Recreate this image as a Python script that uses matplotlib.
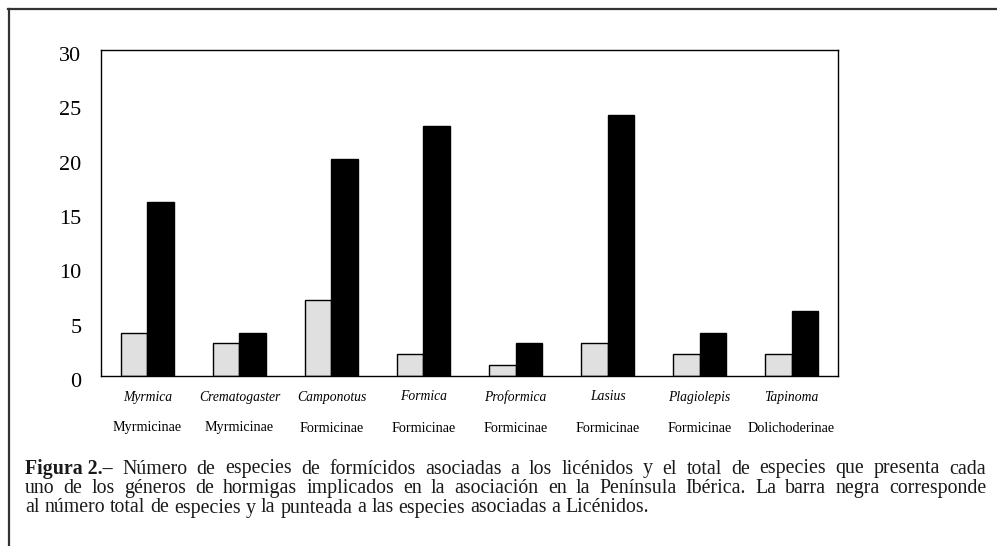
import matplotlib
matplotlib.use("Agg")
import matplotlib.pyplot as plt
from matplotlib.lines import Line2D
from matplotlib.transforms import ScaledTranslation
import numpy as np

genera = ["Myrmica", "Crematogaster", "Camponotus", "Formica",
          "Proformica", "Lasius", "Plagiolepis", "Tapinoma"]
subfamilies = ["Myrmicinae", "Myrmicinae", "Formicinae", "Formicinae",
               "Formicinae", "Formicinae", "Formicinae", "Dolichoderinae"]
associated = [4, 3, 7, 2, 1, 3, 2, 2]
total = [16, 4, 20, 23, 3, 24, 4, 6]
yticks = [0, 5, 10, 15, 20, 25, 30]

caption_bold = "Figura 2.–"
caption_lines = [
    "Número de especies de formícidos asociadas a los licénidos y el total de especies que presenta cada",
    "uno de los géneros de hormigas implicados en la asociación en la Península Ibérica. La barra negra corresponde",
    "al número total de especies y la punteada a las especies asociadas a Licénidos.",
]

FAM = "Liberation Serif"
plt.rcParams["font.family"] = [FAM, "DejaVu Serif"]

W, H = 997, 546
fig = plt.figure(figsize=(W / 100, H / 100), dpi=100)
fig.patch.set_facecolor("white")

ax = fig.add_axes([101 / W, 1 - 376 / H, (838 - 101) / W, (376 - 50) / H])
x = np.arange(len(genera))
bw = 0.29
ax.bar(x, associated, width=-bw, align="edge", color="#e0e0e0",
       edgecolor="black", linewidth=1.0)
ax.bar(x, total, width=bw, align="edge", color="black",
       edgecolor="black", linewidth=1.0)

ax.set_xlim(-0.505, 7.505)
ax.set_ylim(0, 30)
ax.set_yticks(yticks)
ax.set_yticklabels([str(v) for v in yticks], fontsize=16, family=FAM)
ax.tick_params(axis="y", length=0, pad=14)
off = ScaledTranslation(0, -4 / 100, fig.dpi_scale_trans)
for lab in ax.get_yticklabels():
    lab.set_transform(lab.get_transform() + off)
ax.set_xticks([])
for s in ax.spines.values():
    s.set_color("black")
    s.set_linewidth(1.0)

tr = ax.get_xaxis_transform()
for xi, g, sf in zip(x, genera, subfamilies):
    ax.text(xi, -21 / 326, g, transform=tr, ha="center", va="center",
            fontsize=9.8, style="italic", family=FAM)
    ax.text(xi, -52 / 326, sf, transform=tr, ha="center", va="center",
            fontsize=10.2, family=FAM)

# outer frame
fig.add_artist(Line2D([8 / W, 1], [1 - 8.5 / H, 1 - 8.5 / H], transform=fig.transFigure,
                      color="#333333", linewidth=1.6))
fig.add_artist(Line2D([9 / W, 9 / W], [0, 1 - 8.5 / H], transform=fig.transFigure,
                      color="#333333", linewidth=1.6))

# caption, justified
fig.canvas.draw()
r = fig.canvas.get_renderer()
x0, x1 = 25, 986
ys = [469, 488.5, 508]
FS = 14.3
for li, (line, yp) in enumerate(zip(caption_lines, ys)):
    words = line.split(" ")
    specs = [(w, "normal") for w in words]
    if li == 0:
        specs = [(caption_bold, "bold")] + specs
    texts = []
    for w, wt in specs:
        t = fig.text(0, 1 - yp / H, w, fontsize=FS, va="center", ha="left",
                     family=FAM, fontweight=wt, color="#1a1a1a")
        texts.append(t)
    widths = [t.get_window_extent(r).width for t in texts]
    if li < 2:
        gap = (x1 - x0 - sum(widths)) / (len(specs) - 1)
    else:
        sp = fig.text(0, 0, "a a", fontsize=FS, family=FAM)
        sp2 = fig.text(0, 0, "aa", fontsize=FS, family=FAM)
        gap = sp.get_window_extent(r).width - sp2.get_window_extent(r).width
        sp.remove(); sp2.remove()
    xp = x0
    for t, w in zip(texts, widths):
        t.set_position((xp / W, 1 - yp / H))
        xp += w + gap

fig.savefig("out.png", dpi=100, facecolor="white")
